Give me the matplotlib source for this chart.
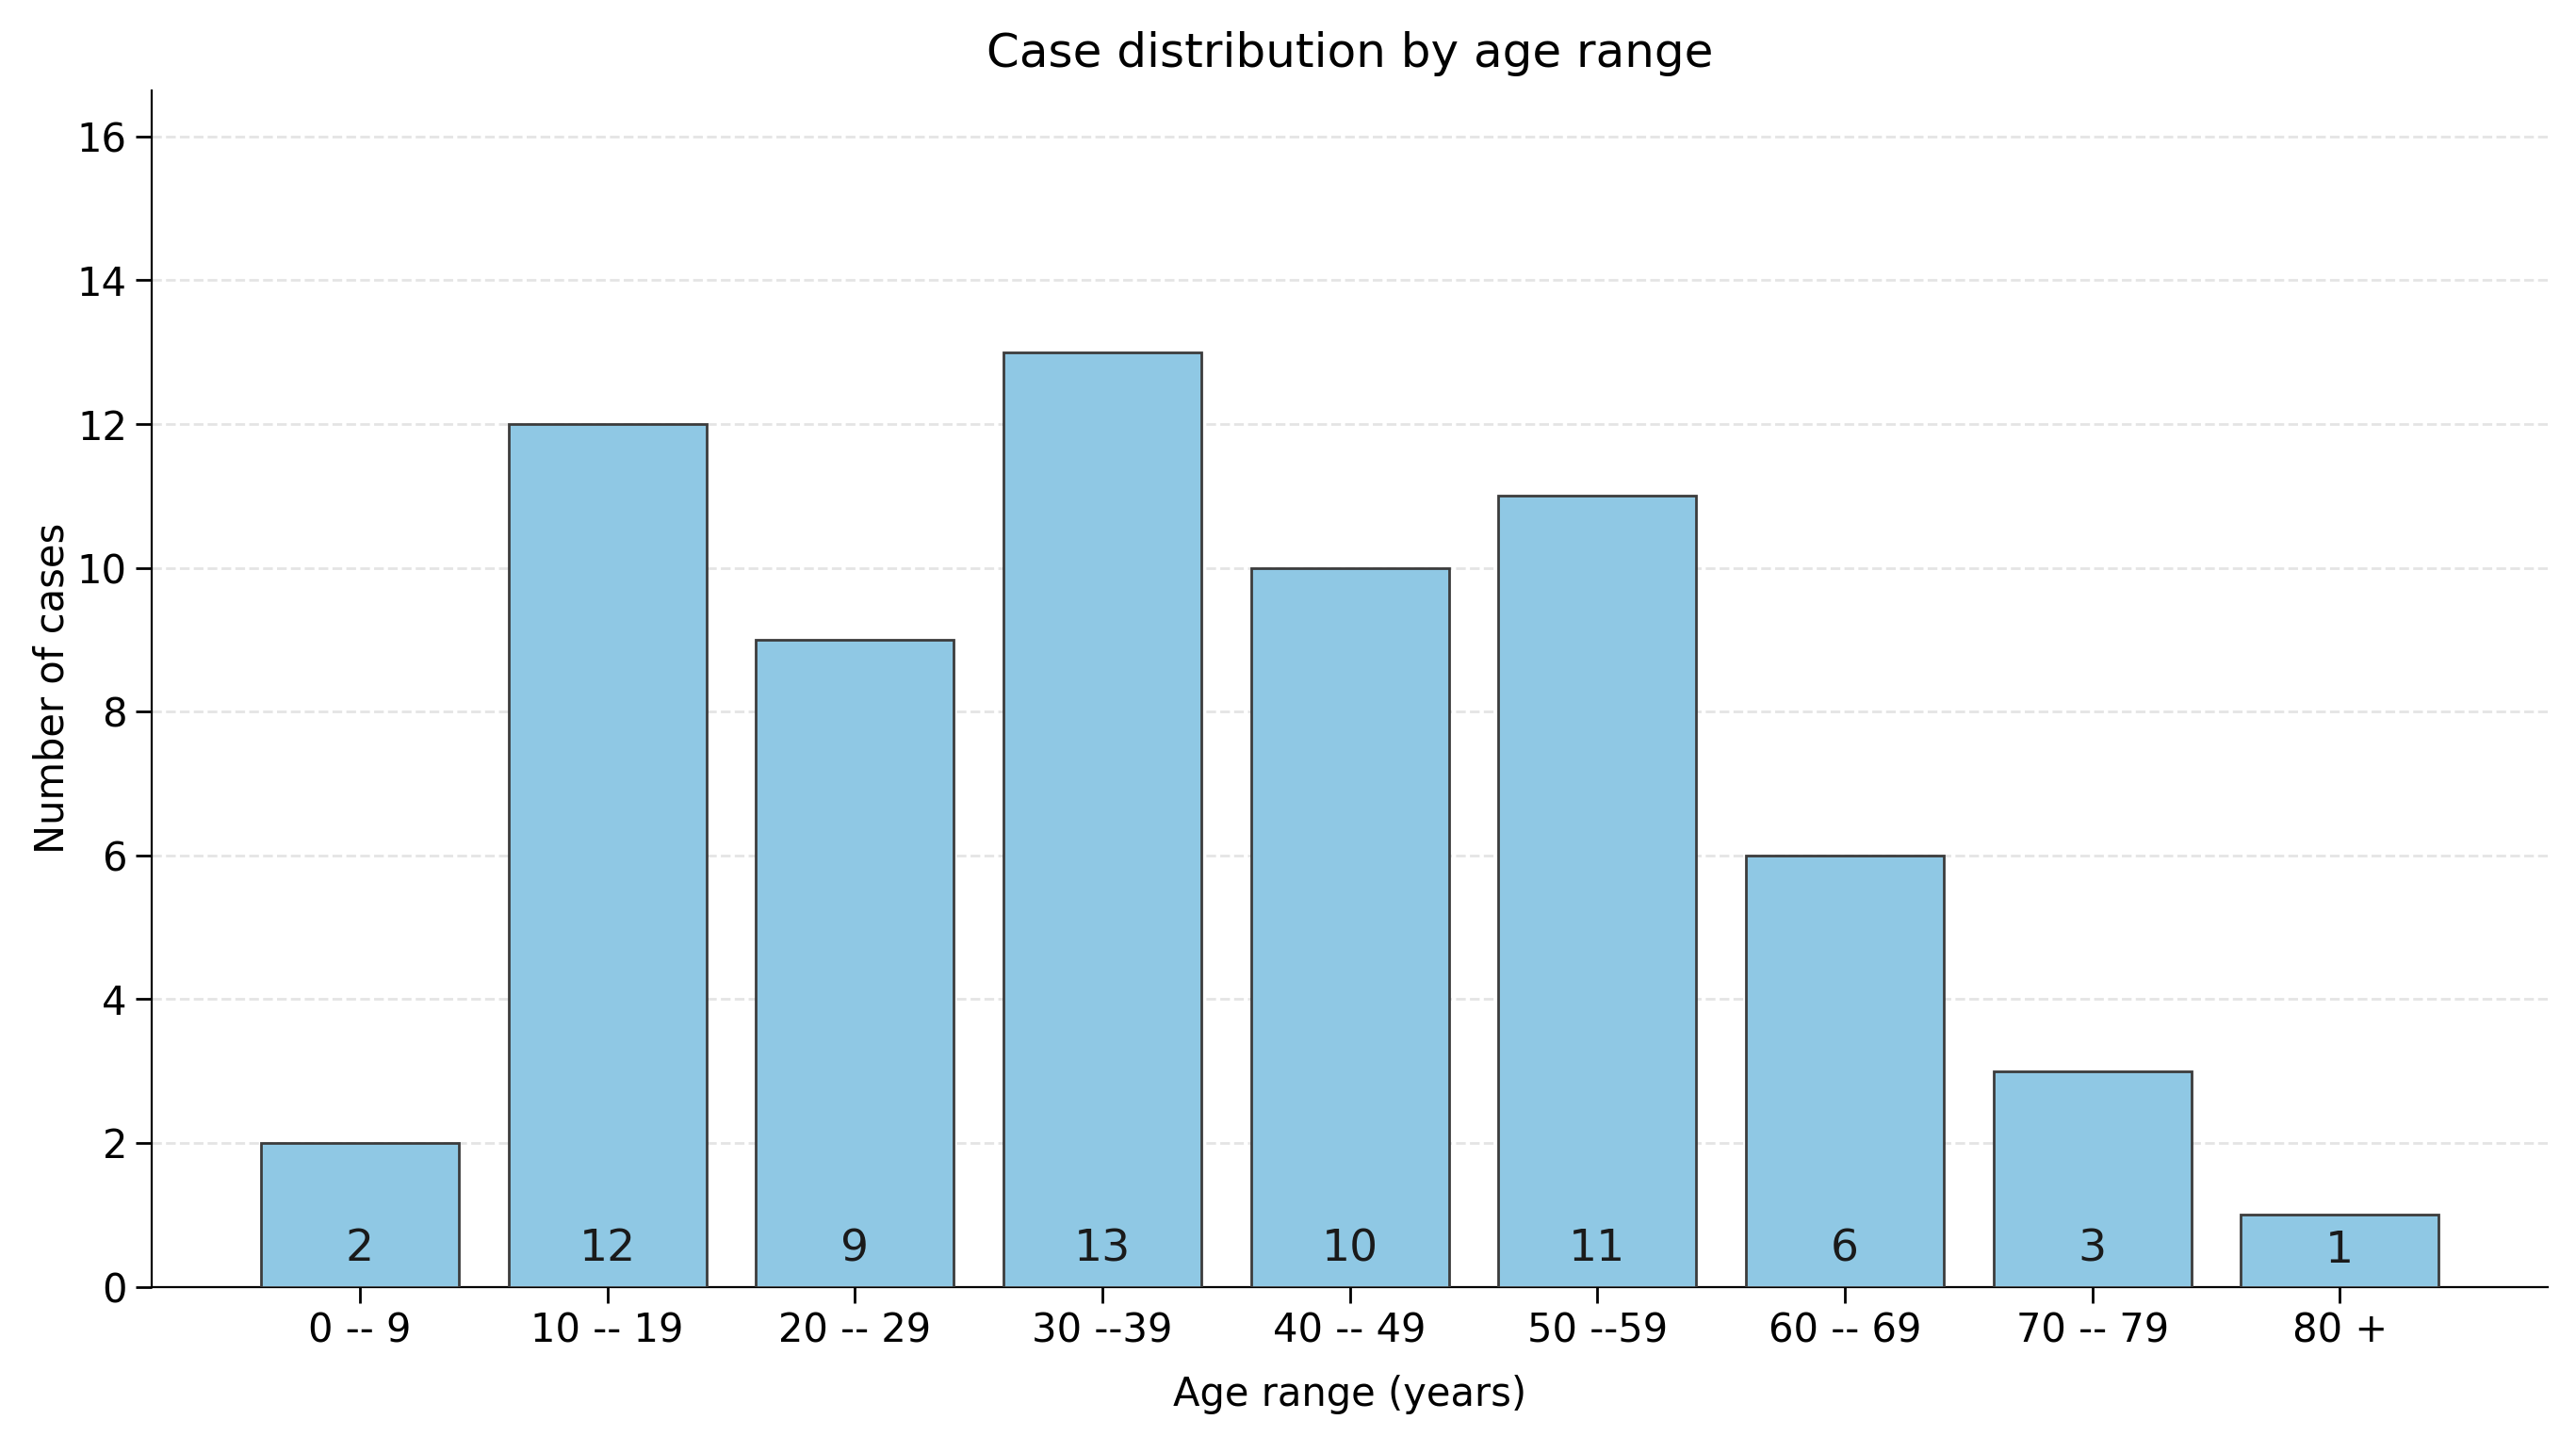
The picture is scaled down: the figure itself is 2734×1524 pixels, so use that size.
import matplotlib
matplotlib.use("Agg")
import matplotlib.pyplot as plt

# Case counts by age range
age_ranges = ["0 -- 9", "10 -- 19", "20 -- 29", "30 --39", "40 -- 49",
              "50 --59", "60 -- 69", "70 -- 79", "80 +"]
cases = [2, 12, 9, 13, 10, 11, 6, 3, 1]

plt.rcParams["font.family"] = "DejaVu Sans"

fig, ax = plt.subplots(figsize=(13.67, 7.62), dpi=200)
fig.subplots_adjust(left=0.059, right=0.989, bottom=0.104, top=0.937)

positions = range(len(age_ranges))
bars = ax.bar(positions, cases, width=0.8, color="#8fc8e4",
              edgecolor="#3c3c3c", linewidth=1.0, zorder=3)

# counts written near the bottom of each bar
for pos, val in zip(positions, cases):
    ax.text(pos, min(val / 2, 0.52), str(val), ha="center", va="center",
            fontsize=17, color="#1a1a1a", zorder=4)

ax.set_xticks(list(positions))
ax.set_xticklabels(age_ranges, fontsize=15)
ax.set_ylim(0, max(cases) * 1.28)
ax.set_yticks(range(0, 17, 2))
ax.tick_params(axis="y", labelsize=15)
ax.tick_params(length=6, width=1)

ax.yaxis.grid(True, linestyle="--", color="#d9d9d9", alpha=0.7, linewidth=1.0, zorder=0)
ax.set_axisbelow(True)

ax.spines["top"].set_visible(False)
ax.spines["right"].set_visible(False)

ax.set_title("Case distribution by age range", fontsize=18, pad=9)
ax.set_xlabel("Age range (years)", fontsize=15, labelpad=9)
ax.set_ylabel("Number of cases", fontsize=15, labelpad=2)

fig.savefig("out.png", dpi=200)
